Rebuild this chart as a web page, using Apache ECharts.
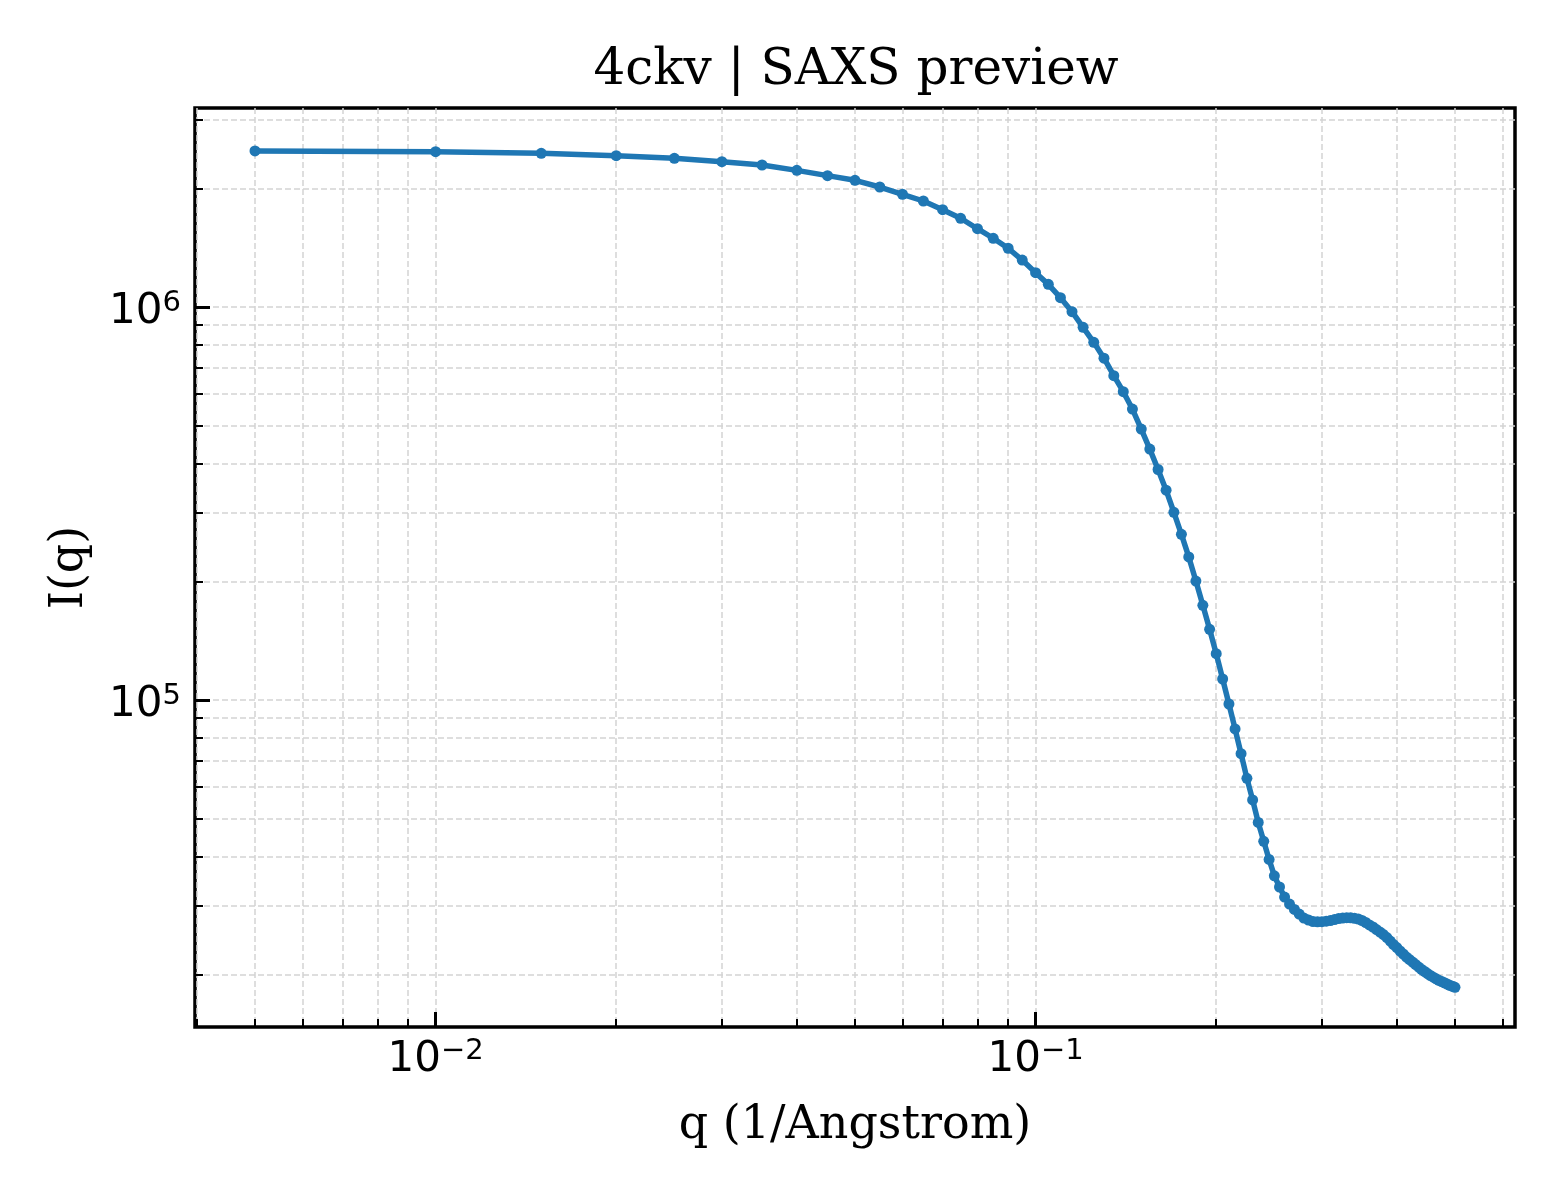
<!DOCTYPE html>
<html>
<head>
<meta charset="utf-8">
<script src="https://cdn.jsdelivr.net/npm/echarts@6.0.0/dist/echarts.min.js"></script>
<style>
html,body{margin:0;padding:0;background:#ffffff;}
#chart{width:1560px;height:1200px;}
</style>
</head>
<body>
<div id="chart"></div>
<script>
// ---- data ----
const q = [
  0.005,0.010,0.015,0.020,0.025,0.030,0.035,0.040,0.045,0.050,
  0.055,0.060,0.065,0.070,0.075,0.080,0.085,0.090,0.095,0.100,
  0.105,0.110,0.115,0.120,0.125,0.130,0.135,0.140,0.145,0.150,
  0.155,0.160,0.165,0.170,0.175,0.180,0.185,0.190,0.195,0.200,
  0.205,0.210,0.215,0.220,0.225,0.230,0.235,0.240,0.245,0.250,
  0.255,0.260,0.265,0.270,0.275,0.280,0.285,0.290,0.295,0.300,
  0.305,0.310,0.315,0.320,0.325,0.330,0.335,0.340,0.345,0.350,
  0.355,0.360,0.365,0.370,0.375,0.380,0.385,0.390,0.395,0.400,
  0.405,0.410,0.415,0.420,0.425,0.430,0.435,0.440,0.445,0.450,
  0.455,0.460,0.465,0.470,0.475,0.480,0.485,0.490,0.495,0.500
];
const intensity = [
  2495000,2485000,2461000,2427000,2390000,2343000,2298000,2227000,2159000,2101000,
  2020000,1936000,1861000,1769000,1682000,1582000,1496000,1411000,1317000,1223000,
  1142000,1056000,973000,888000,813000,741000,669000,609000,550000,489000,
  435000,386000,342000,300400,264000,231200,200800,174200,151300,131200,
  113100,97700,84400,73000,63200,55700,48800,43700,39300,35700,
  33440,31530,30260,29310,28540,27880,27560,27320,27270,27290,
  27370,27470,27620,27790,27880,27930,27910,27830,27720,27480,
  27160,26770,26450,26060,25680,25310,24870,24360,23870,23450,
  22980,22580,22180,21860,21540,21230,20920,20620,20380,20140,
  19910,19710,19530,19360,19220,19080,18940,18800,18680,18580
];
const xMajorTicks = [0.01, 0.1];
const xMinorTicks = [0.004,0.005,0.006,0.007,0.008,0.009,
                     0.02,0.03,0.04,0.05,0.06,0.07,0.08,0.09,
                     0.2,0.3,0.4,0.5,0.6];
const yMajorTicks = [1e5, 1e6];
const yMinorTicks = [2e4,3e4,4e4,5e4,6e4,7e4,8e4,9e4,
                     2e5,3e5,4e5,5e5,6e5,7e5,8e5,9e5,
                     2e6,3e6];
const titleText = '4ckv | SAXS preview';
const xLabel = 'q (1/Angstrom)';
const yLabel = 'I(q)';

// ---- chart ----
const L = Math.log10;
const X_MIN = -2.4010, X_MAX = -0.2010;   // log10 extent of the x axis
const Y_MIN = 4.1680, Y_MAX = 6.5064;     // log10 extent of the y axis

const seriesData = q.map((v, i) => [L(v), L(intensity[i])]);

const gridStyle = { color: '#d4d4d4', width: 1.5, type: [6, 3] };
const supFmt = v => {
  const e = Math.round(v);
  return '{b|10}{s|' + (e < 0 ? '\u2212' + (-e) : String(e)) + '}';
};
const labelRich = {
  b: { fontSize: 42, lineHeight: 42, fontFamily: 'DejaVu Sans', color: '#000', verticalAlign: 'bottom' },
  s: { fontSize: 29, lineHeight: 29, fontFamily: 'DejaVu Sans', color: '#000', verticalAlign: 'bottom', padding: [0, 0, 15, 0] }
};

function axisPair(dim) {
  const isX = dim === 'x';
  const major = (isX ? xMajorTicks : yMajorTicks).map(L);
  const minor = (isX ? xMinorTicks : yMinorTicks).map(L);
  const base = {
    type: 'value',
    min: isX ? X_MIN : Y_MIN,
    max: isX ? X_MAX : Y_MAX,
    position: isX ? 'bottom' : 'left',
    axisLine: { show: false },
    animation: false
  };
  return [
    Object.assign({}, base, {
      axisTick: { show: true, inside: true, length: 15, customValues: major,
                  lineStyle: { color: '#000', width: 3 } },
      axisLabel: { show: true, customValues: major, formatter: supFmt, rich: labelRich,
                   margin: isX ? 12 : 14, padding: isX ? 0 : [10, 0, 0, 0],
                   color: '#000', fontSize: 42, fontFamily: 'DejaVu Sans' },
      splitLine: { show: true, lineStyle: gridStyle },
      name: isX ? xLabel : yLabel,
      nameLocation: 'middle',
      nameGap: isX ? 76 : 102,
      nameTextStyle: { fontFamily: 'DejaVu Serif', fontSize: 46, color: '#000' }
    }),
    Object.assign({}, base, {
      axisTick: { show: true, inside: true, length: 8, customValues: minor,
                  lineStyle: { color: '#000', width: 2 } },
      axisLabel: { show: false },
      splitLine: { show: true, lineStyle: gridStyle }
    })
  ];
}

const chart = echarts.init(document.getElementById('chart'), null, { renderer: 'canvas', width: 1560, height: 1200 });
chart.setOption({
  animation: false,
  backgroundColor: '#ffffff',
  title: {
    text: titleText,
    left: 851,
    top: 41,
    textAlign: 'center',
    textStyle: { fontFamily: 'DejaVu Serif', fontSize: 50, fontWeight: 'normal', color: '#000' }
  },
  grid: {
    left: 195, right: 45, top: 108, bottom: 173,
    show: true, borderColor: '#000', borderWidth: 3.5, backgroundColor: 'transparent',
    containLabel: false, outerBoundsMode: 'none'
  },
  xAxis: axisPair('x'),
  yAxis: axisPair('y'),
  series: [{
    type: 'line',
    xAxisIndex: 0,
    yAxisIndex: 0,
    data: seriesData,
    showSymbol: true,
    symbol: 'circle',
    symbolSize: 11,
    itemStyle: { color: '#1f77b4' },
    lineStyle: { color: '#1f77b4', width: 5.5 },
    emphasis: { disabled: true },
    z: 5
  }]
});
</script>
</body>
</html>
